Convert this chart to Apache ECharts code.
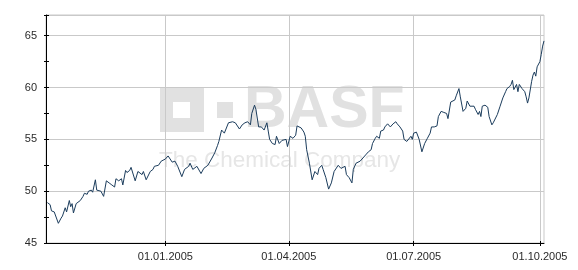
<!DOCTYPE html>
<html>
<head>
<meta charset="utf-8">
<script src="https://cdn.jsdelivr.net/npm/echarts@6/dist/echarts.min.js"></script>
<style>html,body{margin:0;padding:0;background:#fff}#c{width:578px;height:270px}</style>
</head>
<body>
<div id="c"></div>
<script>
const startDate = '2004-10-06';
const endDate = '2005-10-04';
const labelDates = ['2005-01-01', '2005-04-01', '2005-07-01', '2005-10-01'];
const yLabels = [45, 50, 55, 60, 65];

const dates = [
'2004-10-07','2004-10-09','2004-10-10','2004-10-12','2004-10-15','2004-10-17','2004-10-18','2004-10-20','2004-10-21','2004-10-23',
'2004-10-24','2004-10-25','2004-10-26','2004-10-28','2004-10-31','2004-11-02','2004-11-03','2004-11-05','2004-11-06','2004-11-08',
'2004-11-09','2004-11-11','2004-11-12','2004-11-15','2004-11-17','2004-11-19','2004-11-21','2004-11-23','2004-11-25','2004-11-26',
'2004-11-28','2004-11-30','2004-12-01','2004-12-03','2004-12-04','2004-12-06','2004-12-07','2004-12-10','2004-12-12','2004-12-15',
'2004-12-16','2004-12-18','2004-12-21','2004-12-23','2004-12-24','2004-12-27','2004-12-29','2005-01-01','2005-01-03','2005-01-04',
'2005-01-06','2005-01-08','2005-01-10','2005-01-13','2005-01-15','2005-01-18','2005-01-19','2005-01-21','2005-01-24','2005-01-27',
'2005-01-29','2005-02-01','2005-02-04','2005-02-06','2005-02-08','2005-02-09','2005-02-11','2005-02-13','2005-02-16','2005-02-19',
'2005-02-21','2005-02-24','2005-02-26','2005-02-28','2005-03-02','2005-03-04','2005-03-05','2005-03-07','2005-03-08','2005-03-10',
'2005-03-12','2005-03-14','2005-03-16','2005-03-17','2005-03-18','2005-03-20','2005-03-22','2005-03-23','2005-03-25','2005-03-27',
'2005-03-28','2005-03-30','2005-03-31','2005-04-02','2005-04-04','2005-04-06','2005-04-07','2005-04-10','2005-04-12','2005-04-13',
'2005-04-14','2005-04-16','2005-04-18','2005-04-20','2005-04-22','2005-04-23','2005-04-25','2005-04-26','2005-04-28','2005-04-30',
'2005-05-02','2005-05-04','2005-05-07','2005-05-09','2005-05-12','2005-05-13','2005-05-15','2005-05-17','2005-05-18','2005-05-20',
'2005-05-23','2005-05-25','2005-05-27','2005-05-29','2005-05-31','2005-06-01','2005-06-03','2005-06-04','2005-06-06','2005-06-07',
'2005-06-09','2005-06-10','2005-06-12','2005-06-14','2005-06-16','2005-06-18','2005-06-19','2005-06-21','2005-06-23','2005-06-24',
'2005-06-26','2005-06-27','2005-06-29','2005-06-30','2005-07-01','2005-07-03','2005-07-04','2005-07-05','2005-07-07','2005-07-09',
'2005-07-11','2005-07-13','2005-07-14','2005-07-16','2005-07-18','2005-07-19','2005-07-21','2005-07-23','2005-07-25','2005-07-26',
'2005-07-28','2005-07-31','2005-08-01','2005-08-03','2005-08-04','2005-08-06','2005-08-08','2005-08-09','2005-08-11','2005-08-14',
'2005-08-15','2005-08-17','2005-08-18','2005-08-19','2005-08-20','2005-08-22','2005-08-24','2005-08-25','2005-08-27','2005-08-28',
'2005-08-29','2005-08-31','2005-09-02','2005-09-04','2005-09-06','2005-09-07','2005-09-09','2005-09-10','2005-09-11','2005-09-12',
'2005-09-14','2005-09-15','2005-09-16','2005-09-18','2005-09-20','2005-09-21','2005-09-22','2005-09-23','2005-09-25','2005-09-26',
'2005-09-27','2005-09-28','2005-09-29','2005-10-01','2005-10-02','2005-10-03','2005-10-04'
];
const prices = [
48.9,48.7,48.1,48.0,46.9,47.4,47.6,48.4,48.0,49.1,
48.5,48.8,47.9,48.8,49.1,49.5,49.8,49.7,50.0,50.1,
49.9,51.1,50.1,50.0,49.5,51.0,50.8,50.6,50.4,51.2,
51.0,51.2,50.6,52.0,51.8,52.0,52.3,51.0,51.9,51.6,
51.9,51.1,51.9,52.1,52.4,52.5,52.9,53.1,53.4,53.2,
52.8,52.9,52.4,51.4,52.1,52.4,52.7,52.1,52.4,51.7,
52.2,52.5,53.2,53.7,54.4,54.8,55.9,55.6,56.6,56.7,
56.6,56.0,56.4,56.6,56.7,56.4,57.5,58.3,57.9,56.2,
56.2,55.9,56.6,55.8,55.0,54.6,54.5,55.3,54.6,54.9,
54.8,55.0,54.3,55.3,55.1,55.4,56.3,56.1,55.7,55.3,
54.0,52.7,51.1,51.9,51.6,52.2,52.5,52.1,51.3,50.2,
50.8,51.9,52.5,52.2,52.4,51.6,51.3,50.8,52.1,52.7,
52.9,53.2,53.5,53.8,54.0,54.6,55.1,55.3,55.1,55.8,
55.9,56.2,56.5,56.2,56.5,56.7,56.5,56.2,55.8,55.0,
54.8,54.9,55.3,55.0,55.6,55.7,55.6,55.0,53.8,54.6,
55.1,55.6,56.2,56.2,56.3,57.2,57.7,57.6,57.5,57.0,
58.6,58.8,59.2,59.9,59.1,57.7,58.0,58.7,58.2,58.2,
57.9,57.4,57.7,57.2,58.2,58.3,58.1,57.2,56.4,56.6,
56.7,57.4,58.2,59.0,59.6,59.9,60.1,60.3,60.7,59.8,
60.3,59.6,60.3,59.9,59.6,59.1,58.5,59.0,60.6,61.2,
61.5,61.1,62.0,62.5,63.2,64.0,64.5
];

// build the daily category axis
const categories = [];
(function () {
  let t = Date.UTC(+startDate.slice(0,4), +startDate.slice(5,7)-1, +startDate.slice(8,10));
  const tEnd = Date.UTC(+endDate.slice(0,4), +endDate.slice(5,7)-1, +endDate.slice(8,10));
  while (t <= tEnd) {
    categories.push(new Date(t).toISOString().slice(0,10));
    t += 86400000;
  }
})();
const priceByDate = {};
dates.forEach((d, i) => { priceByDate[d] = prices[i]; });
const seriesData = categories.map(d => (d in priceByDate ? priceByDate[d] : null));

const isLabelDate = (idx, val) => labelDates.indexOf(val) >= 0;
const fmtDate = v => v.slice(8,10) + '.' + v.slice(5,7) + '.' + v.slice(0,4);

const FONT = 'Liberation Sans, Arial, sans-serif';
const GRID_C = '#c9c9c9';

const chart = echarts.init(document.getElementById('c'), null, {renderer: 'canvas'});
chart.setOption({
  animation: false,
  backgroundColor: '#ffffff',
  grid: {left: 46, top: 15, right: 34, bottom: 27, show: true, borderColor: GRID_C, borderWidth: 1, backgroundColor: 'transparent'},
  graphic: [
    {type: 'rect', z: -10, silent: true, shape: {x: 160, y: 88, width: 44, height: 44}, style: {fill: '#e1e1e1'}},
    {type: 'rect', z: -9, silent: true, shape: {x: 173, y: 102, width: 17, height: 16}, style: {fill: '#ffffff'}},
    {type: 'rect', z: -10, silent: true, shape: {x: 217, y: 102, width: 16, height: 16}, style: {fill: '#e1e1e1'}},
    {type: 'text', z: -10, silent: true, style: {x: 244, y: 111, text: 'BASF', fill: '#e1e1e1', font: 'bold 59px ' + FONT, textVerticalAlign: 'middle', textAlign: 'left'}},
    {type: 'text', z: -10, silent: true, style: {x: 159, y: 161, text: 'The Chemical Company', fill: '#e6e6e6', font: '22.5px ' + FONT, textVerticalAlign: 'middle', textAlign: 'left'}}
  ],
  xAxis: [{
    type: 'category',
    data: categories,
    boundaryGap: false,
    axisLine: {show: true, onZero: false, lineStyle: {color: '#000', width: 1}},
    axisTick: {show: true, inside: false, length: 3, interval: isLabelDate, lineStyle: {color: '#000'}},
    axisLabel: {show: true, interval: isLabelDate, formatter: fmtDate, color: '#2a2a2a', fontSize: 11, fontFamily: FONT, margin: 8},
    splitLine: {show: true, interval: isLabelDate, lineStyle: {color: GRID_C, width: 1}}
  }, {
    type: 'category',
    data: categories,
    boundaryGap: false,
    position: 'bottom',
    axisLine: {show: false},
    axisTick: {show: true, inside: true, length: 2, interval: isLabelDate, lineStyle: {color: '#000'}},
    axisLabel: {show: false},
    splitLine: {show: false}
  }],
  yAxis: [{
    type: 'value',
    min: 45, max: 67, interval: 5,
    axisLine: {show: true, onZero: false, lineStyle: {color: '#000', width: 1}},
    axisTick: {show: false},
    axisLabel: {color: '#2a2a2a', fontSize: 11, fontFamily: FONT, margin: 9,
      formatter: v => (yLabels.indexOf(v) >= 0 ? String(v) : '')},
    splitLine: {show: true, lineStyle: {color: GRID_C, width: 1}}
  }, {
    type: 'value', position: 'left',
    min: 45, max: 67, interval: 2.5,
    axisLine: {show: false},
    axisTick: {show: true, inside: true, length: 3, lineStyle: {color: '#000'}},
    axisLabel: {show: false},
    splitLine: {show: false}
  }, {
    type: 'value', position: 'left',
    min: 45, max: 67, interval: 2.5,
    axisLine: {show: false},
    axisTick: {show: true, inside: false, length: 2, lineStyle: {color: '#000'}},
    axisLabel: {show: false},
    splitLine: {show: false}
  }],
  series: [{
    type: 'line',
    xAxisIndex: 0, yAxisIndex: 0,
    data: seriesData,
    connectNulls: true,
    showSymbol: false,
    symbol: 'none',
    lineStyle: {color: '#1b3c5c', width: 1},
    z: 5
  }]
});
</script>
</body>
</html>
